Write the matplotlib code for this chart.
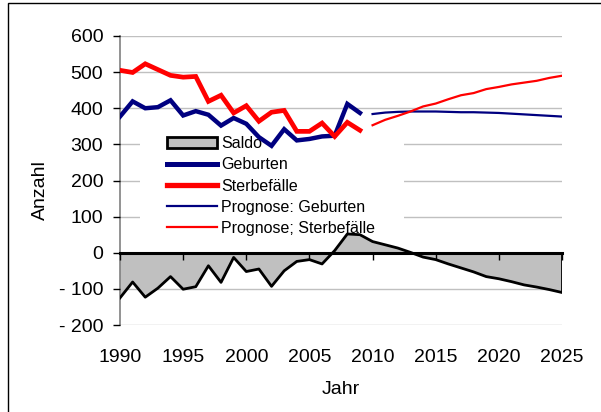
import matplotlib
matplotlib.use("Agg")
import matplotlib.pyplot as plt
from matplotlib.patches import Patch, Rectangle
from matplotlib.lines import Line2D

plt.rcParams['font.family'] = ['Liberation Sans', 'DejaVu Sans']

# ---- data ----
years_hist = list(range(1990, 2010))
geburten = [377, 419, 400, 403, 422, 380, 392, 382, 352, 373, 357, 320, 296, 342, 311, 315, 322, 324, 412, 387]
sterbefaelle = [505, 499, 523, 507, 491, 486, 488, 419, 436, 387, 407, 364, 389, 394, 336, 336, 359, 322, 361, 339]

years_prog = list(range(2010, 2026))
prog_geburten = [384, 388, 390, 391, 391, 391, 390, 389, 389, 388, 387, 385, 383, 381, 379, 377]
prog_sterbefaelle = [353, 368, 379, 391, 405, 413, 425, 436, 442, 453, 459, 466, 471, 476, 484, 490]

years_saldo = list(range(1990, 2026))
saldo = [-125, -81, -123, -98, -66, -101, -94, -36, -82, -13, -52, -45, -93, -50, -24, -19, -31, 6, 52, 50,
         31, 22, 13, 1, -12, -19, -31, -42, -53, -66, -72, -80, -89, -95, -102, -110]

y_ticks = [600, 500, 400, 300, 200, 100, 0, -100, -200]
y_labels = ['600', '500', '400', '300', '200', '100', '0', '- 100', '- 200']
x_ticks = [1990, 1995, 2000, 2005, 2010, 2015, 2020, 2025]

# ---- figure ----
fig = plt.figure(figsize=(6.01, 4.12), dpi=100)
W, H = 601, 412
ax = fig.add_axes([120 / W, 1 - 325 / H, 442 / W, 289 / H])

# outer frame (only left/top visible)
fig.patches.append(Rectangle((8 / W, -0.1), 1.2, 1 - 3 / H + 0.1, transform=fig.transFigure,
                             fill=False, edgecolor='black', linewidth=1.0))

ax.set_xlim(1990, 2025)
ax.set_ylim(-200, 600)
ax.set_yticks(y_ticks)
ax.set_yticklabels(y_labels)
ax.set_axisbelow(False)

# horizontal gridlines (below legend background)
for yv in y_ticks:
    if yv != 0:
        ax.axhline(yv, color='#c0c0c0', linewidth=1.0, zorder=0.5)

# legend background box (Excel-style white legend area)
ax.add_patch(Rectangle(((140 - 120) / 442, (325 - 235) / 289), (404 - 140) / 442, (235 - 130) / 289,
                       transform=ax.transAxes, facecolor='white', edgecolor='none', zorder=1))

# saldo area
ax.fill_between(years_saldo, saldo, 0, facecolor='#c0c0c0', edgecolor='none', zorder=2)
ax.plot(years_saldo, saldo, color='black', linewidth=2.0, zorder=3)
ax.vlines(years_saldo[-1], saldo[-1], 0, color='black', linewidth=2.0, zorder=3)

# lines
ax.plot(years_hist, geburten, color='#000080', linewidth=3.2, zorder=4, solid_joinstyle='miter')
ax.plot(years_hist, sterbefaelle, color='#ff0000', linewidth=3.4, zorder=4, solid_joinstyle='miter')
ax.plot(years_prog, prog_geburten, color='#000080', linewidth=1.6, zorder=4)
ax.plot(years_prog, prog_sterbefaelle, color='#ff0000', linewidth=1.6, zorder=4)

# spines
for s in ['top', 'right']:
    ax.spines[s].set_visible(False)
ax.spines['left'].set_color('#808080')
ax.spines['left'].set_linewidth(1.2)
ax.spines['bottom'].set_position(('data', 0))
ax.spines['bottom'].set_color('black')
ax.spines['bottom'].set_linewidth(2.2)
ax.spines['bottom'].set_zorder(3.5)

ax.set_xticks(x_ticks)
ax.tick_params(axis='x', direction='out', length=5, width=1, color='black', labelbottom=False)
ax.tick_params(axis='y', direction='out', length=5, width=1, color='black', labelsize=14, pad=7)

sec = ax.secondary_xaxis('bottom')
sec.set_xticks(x_ticks)
sec.set_xticklabels([str(x) for x in x_ticks])
sec.tick_params(length=0, labelsize=14, pad=17)
sec.spines['bottom'].set_visible(False)
sec.set_xlabel('Jahr', fontsize=14, labelpad=11)

ax.set_ylabel('Anzahl', fontsize=14)
ax.yaxis.set_label_coords(-0.18, 0.467)
ax.yaxis.label.set_verticalalignment('center')

# legend
handles = [
    Patch(facecolor='#c0c0c0', edgecolor='black', linewidth=2.0),
    Line2D([], [], color='#000080', linewidth=3.6),
    Line2D([], [], color='#ff0000', linewidth=3.8),
    Line2D([], [], color='#000080', linewidth=1.6),
    Line2D([], [], color='#ff0000', linewidth=1.6),
]
labels = ['Saldo', 'Geburten', 'Sterbefälle', 'Prognose: Geburten', 'Prognose; Sterbefälle']
leg = ax.legend(handles, labels, loc='upper left', bbox_to_anchor=((161 - 120) / 442, (325 - 130) / 289),
                fontsize=11.5, frameon=False, handlelength=3.1, handletextpad=0.25, labelspacing=0.38,
                borderpad=0.4, borderaxespad=0)
leg.set_zorder(1.5)

fig.savefig('out.png', dpi=100)
